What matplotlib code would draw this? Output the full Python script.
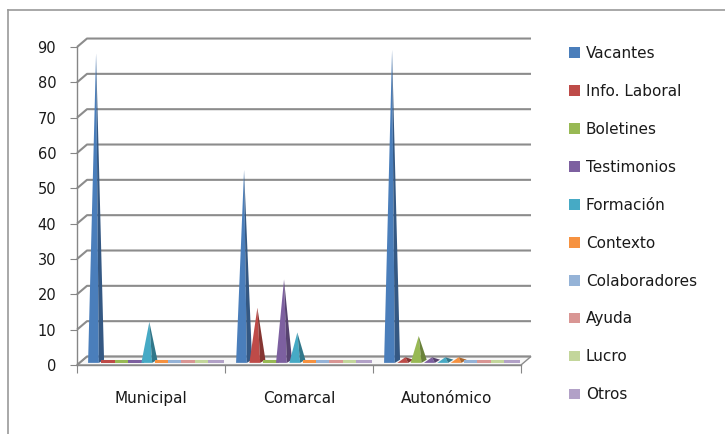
import numpy as np
import matplotlib.pyplot as plt
from matplotlib.patches import Patch, Polygon
from matplotlib.lines import Line2D
from matplotlib.colors import to_rgb

categories = ['Municipal', 'Comarcal', 'Autonómico']
series = ['Vacantes', 'Info. Laboral', 'Boletines', 'Testimonios', 'Formación',
          'Contexto', 'Colaboradores', 'Ayuda', 'Lucro', 'Otros']
colors = ['#4a7ebb', '#be4b48', '#98b954', '#7d60a0', '#46aac5',
          '#f69240', '#95b3d7', '#d99694', '#c3d69b', '#b2a1c7']

# one list per category, in the order of `series`
municipal = [87, 0, 0, 0, 11, 0, 0, 0, 0, 0]
comarcal = [54, 15, 0, 23, 8, 0, 0, 0, 0, 0]
autonomico = [88, 1, 7, 1, 1, 1, 0, 0, 0, 0]
values = [municipal, comarcal, autonomico]

y_ticks = list(range(0, 91, 10))

W, H = 725, 434
XPX = 148.0      # pixels per category
YPX = 3.533      # pixels per unit
DX = 10 / XPX    # depth offset of the back wall
DY = 8.5 / YPX

fig = plt.figure(figsize=(W / 100, H / 100), dpi=100)
fig.patch.set_facecolor('white')
left, right, top, bottom = 77, 540, 30, 365
ax = fig.add_axes([left / W, (H - bottom) / H, (right - left) / W, (bottom - top) / H])
ax.set_xlim(-0.5, -0.5 + (right - left) / XPX)
ax.set_ylim(0, (bottom - top) / YPX)
ax.patch.set_visible(False)

grid_c = '#8c8c8c'
axis_c = '#868686'
text_c = '#1a1a1a'

for s in ['top', 'right']:
    ax.spines[s].set_visible(False)
ax.spines['left'].set_bounds(0, 90)
ax.spines['bottom'].set_bounds(-0.5, 2.5)
for s in ['left', 'bottom']:
    ax.spines[s].set_color(axis_c)
    ax.spines[s].set_linewidth(1.0)

ax.set_yticks(y_ticks)
ax.tick_params(axis='y', direction='out', length=5, color=axis_c, pad=10,
               labelsize=10.5, labelcolor=text_c)
ax.set_xticks([-0.5, 0.5, 1.5, 2.5])
ax.set_xticklabels([])
ax.tick_params(axis='x', which='major', direction='out', length=6, color=axis_c)
ax.set_xticks([0, 1, 2], categories, minor=True)
ax.tick_params(axis='x', which='minor', length=0, pad=19, labelsize=11,
               labelcolor=text_c)

# floor
floor = Polygon([(-0.5, 0), (2.5, 0), (2.5 + DX, DY), (-0.5 + DX, DY)],
                closed=True, facecolor='#f7f7f7', edgecolor=grid_c, lw=1.0,
                clip_on=False, zorder=1)
ax.add_patch(floor)

# back wall gridlines and side-wall links
for v in y_ticks:
    ax.plot([-0.5, -0.5 + DX, 2.5 + DX], [v, v + DY, v + DY],
            color=grid_c, lw=1.5, clip_on=False, zorder=1.5,
            solid_capstyle='butt')

# pyramids
n = len(series)
step = 0.09
hw = 0.054
for i, vals in enumerate(values):
    for j, v in enumerate(vals):
        c = i + (j - (n - 1) / 2) * step + DX / 2
        b = DY / 2
        col = np.array(to_rgb(colors[j]))
        dark = col * 0.7
        if v == 0:
            ax.add_patch(Polygon([(c - hw, b - 0.6), (c + hw, b - 0.6),
                                  (c + hw, b + 0.3), (c - hw, b + 0.3)],
                                 closed=True, facecolor=col, edgecolor='none',
                                 zorder=3))
            continue
        split = c + 0.35 * hw
        ax.add_patch(Polygon([(c - hw, b - 0.6), (split, b - 0.6), (c, b + v)],
                             closed=True, facecolor=col, edgecolor='none',
                             zorder=3))
        ax.add_patch(Polygon([(split, b - 0.6), (c + hw, b + 0.3), (c, b + v)],
                             closed=True, facecolor=dark, edgecolor='none',
                             zorder=3))

handles = [Patch(facecolor=colors[j], edgecolor='none') for j in range(n)]
fig.legend(handles, series, loc='upper left',
           bbox_to_anchor=(569 / W, 1 - 46 / H), frameon=False,
           fontsize=11, labelspacing=1.5, handlelength=0.7, handleheight=0.7,
           handletextpad=0.4, borderpad=0, borderaxespad=0,
           labelcolor=text_c)

# outer chart border
fig.add_artist(Line2D([8 / W, 1], [1 - 10 / H, 1 - 10 / H], color='#9a9a9a', lw=1.2))
fig.add_artist(Line2D([8 / W, 8 / W], [0, 1 - 10 / H], color='#9a9a9a', lw=1.2))

fig.savefig('out.png', dpi=100)
